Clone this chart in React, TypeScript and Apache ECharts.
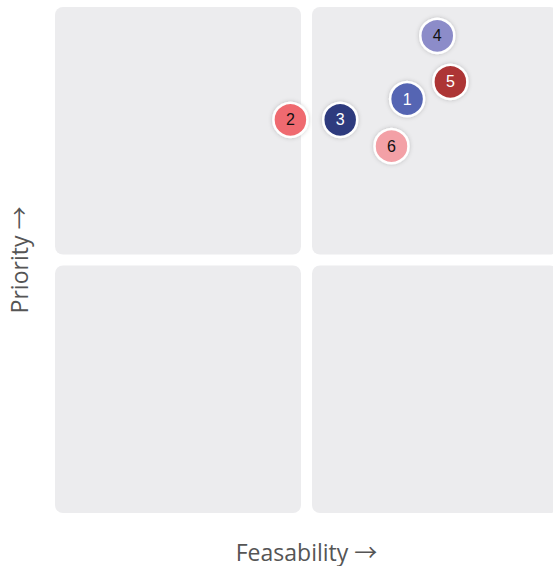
import React, { useEffect, useRef } from "react";
import * as echarts from "echarts";

const ids = ["1", "2", "3", "4", "5", "6"];
const feasibility = [7.0, 4.68, 5.67, 7.6, 7.86, 6.69];
const priority = [8.18, 7.77, 7.77, 9.43, 8.52, 7.25];
const colors = ["#5565b3", "#ef6b6f", "#2d3a7e", "#8c8cc9", "#ad3536", "#f3a0a6"];
const labelColors = ["#ffffff", "#111111", "#ffffff", "#111111", "#ffffff", "#111111"];
// quadrants: [x0, x1, y0, y1]
const quadrants = [
  [0, 5, 5, 10],
  [5, 10, 5, 10],
  [0, 5, 0, 5],
  [5, 10, 0, 5],
];

const nameFont = "'Open Sans', 'Noto Sans CJK SC', sans-serif";

export default function App() {
  const ref = useRef<HTMLDivElement>(null);
  useEffect(() => {
    const chart = echarts.init(ref.current!, null, { renderer: "svg" });
    const gap = 5.5;
    chart.setOption({
      animation: false,
      grid: { left: 55, top: 7, width: 503, height: 506, outerBoundsMode: "none", containLabel: false },
      xAxis: {
        type: "value",
        min: 0,
        max: 10,
        name: "Feasability \u2192",
        nameLocation: "middle",
        nameGap: 27,
        nameTextStyle: { fontSize: 23, color: "#555555", fontFamily: nameFont },
        axisLine: { show: false },
        axisTick: { show: false },
        axisLabel: { show: false },
        splitLine: { show: false },
      },
      yAxis: {
        type: "value",
        min: 0,
        max: 10,
        name: "Priority \u2192",
        nameLocation: "middle",
        nameGap: 25,
        nameTextStyle: { fontSize: 23, color: "#555555", fontFamily: nameFont },
        axisLine: { show: false },
        axisTick: { show: false },
        axisLabel: { show: false },
        splitLine: { show: false },
      },
      series: [
        {
          type: "custom",
          silent: true,
          z: 0,
          data: quadrants,
          renderItem: (params: any, api: any) => {
            const x0 = api.value(0), x1 = api.value(1), y0 = api.value(2), y1 = api.value(3);
            const tl = api.coord([x0, y1]);
            const br = api.coord([x1, y0]);
            let left = tl[0], top = tl[1], right = br[0], bottom = br[1];
            if (x0 === 5) left += gap;
            if (x1 === 5) right -= gap;
            if (y1 === 5) top += gap;
            if (y0 === 5) bottom -= gap;
            return {
              type: "rect",
              shape: { x: left, y: top, width: right - left, height: bottom - top, r: 8 },
              style: { fill: "#ececee" },
            };
          },
        },
        {
          type: "scatter",
          z: 2,
          symbolSize: 34,
          data: ids.map((id, i) => ({
            name: id,
            value: [feasibility[i], priority[i]],
            itemStyle: {
              color: colors[i],
              opacity: 1,
              borderColor: "#ffffff",
              borderWidth: 2.5,
              shadowBlur: 4,
              shadowColor: "rgba(0,0,0,0.2)",
            },
            label: { color: labelColors[i] },
          })),
          label: {
            show: true,
            position: "inside",
            formatter: (p: any) => p.name,
            fontSize: 16,
            fontFamily: "Liberation Sans",
          },
        },
      ],
    });
    return () => chart.dispose();
  }, []);
  return <div ref={ref} style={{ width: 553, height: 566, position: "absolute", left: 0, top: 0 }} />;
}
